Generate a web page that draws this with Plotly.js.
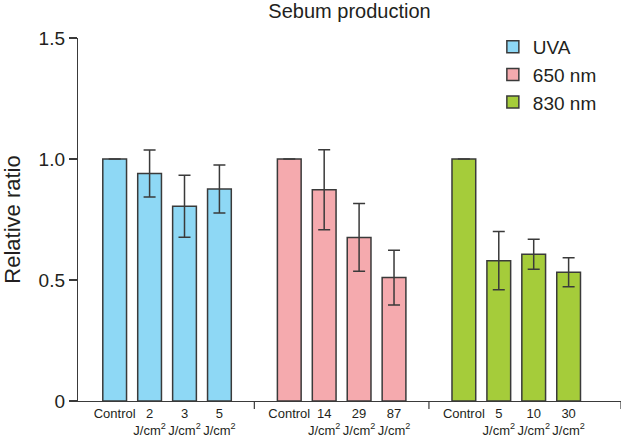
<!DOCTYPE html>
<html>
<head>
<meta charset="utf-8">
<script src="https://cdn.plot.ly/plotly-3.0.1.min.js"></script>
<style>html,body{margin:0;padding:0;background:#fff;}#chart{width:622px;height:448px;}</style>
</head>
<body>
<div id="chart"></div>
<script>
// ---- data ----
const seriesNames = ['UVA', '650 nm', '830 nm'];
const uvaLabels = ['Control', '2<br>J/cm<sup>2</sup>', '3<br>J/cm<sup>2</sup>', '5<br>J/cm<sup>2</sup>'];
const red650Labels = ['Control', '14<br>J/cm<sup>2</sup>', '29<br>J/cm<sup>2</sup>', '87<br>J/cm<sup>2</sup>'];
const nir830Labels = ['Control', '5<br>J/cm<sup>2</sup>', '10<br>J/cm<sup>2</sup>', '30<br>J/cm<sup>2</sup>'];
const uvaValues = [1.0, 0.94, 0.805, 0.876];
const uvaErrors = [null, 0.097, 0.128, 0.099];
const red650Values = [1.0, 0.873, 0.676, 0.51];
const red650Errors = [null, 0.165, 0.14, 0.113];
const nir830Values = [1.0, 0.58, 0.606, 0.532];
const nir830Errors = [null, 0.12, 0.062, 0.06];
const yTickVals = [0, 0.5, 1.0, 1.5];
const yTickText = ['0', '0.5', '1.0', '1.5'];

// ---- build ----
const labelSets = [uvaLabels, red650Labels, nir830Labels];
const valueSets = [uvaValues, red650Values, nir830Values];
const errorSets = [uvaErrors, red650Errors, nir830Errors];
const colors = ['#8ed8f5', '#f5aaae', '#a5cc3a'];
const edge = '#3a3a3a';
const txt = '#231f20';
const slot = 5; // 4 bars + 1 gap per group

const traces = [];
const tickVals = [];
const tickText = [];
seriesNames.forEach((name, g) => {
  const xs = labelSets[g].map((_, i) => g * slot + i);
  xs.forEach((x, i) => { tickVals.push(x); tickText.push(labelSets[g][i]); });
  traces.push({
    type: 'bar',
    name: name,
    x: xs,
    y: valueSets[g],
    width: 0.68,
    marker: {color: colors[g], line: {color: edge, width: 1.5}},
    error_y: {type: 'data', array: errorSets[g], visible: true, color: edge, thickness: 1.5, width: 6},
    hoverinfo: 'y'
  });
});

const groupEdges = [slot - 1, 2 * slot - 1, 3 * slot - 0.5];
const shapes = groupEdges.map(x => ({
  type: 'line', xref: 'x', yref: 'paper', x0: x, x1: x, y0: 0, y1: -0.022,
  line: {color: edge, width: 1.2}
}));

const layout = {
  width: 622, height: 448,
  margin: {l: 78, r: 1, t: 38, b: 47},
  paper_bgcolor: '#fff', plot_bgcolor: '#fff',
  font: {family: '"Liberation Sans", Arial, sans-serif', color: txt},
  title: {text: 'Sebum production', x: 0.5, xref: 'paper', y: 0.975, yref: 'container', yanchor: 'middle',
          font: {size: 20, color: txt}},
  bargap: 0,
  showlegend: true,
  legend: {x: 0.764, y: 1.028, xanchor: 'left', yanchor: 'top', font: {size: 19, color: txt},
           bgcolor: 'rgba(0,0,0,0)', tracegroupgap: 0, itemwidth: 30},
  xaxis: {
    range: [-1.05, 14.5], showgrid: false, zeroline: false,
    showline: true, linecolor: edge, linewidth: 1.2,
    tickmode: 'array', tickvals: tickVals, ticktext: tickText, tickangle: 0,
    ticks: '', tickfont: {size: 13, color: txt}, fixedrange: true
  },
  yaxis: {
    range: [0, 1.5], showgrid: false, zeroline: false,
    showline: true, linecolor: edge, linewidth: 1.2,
    tickmode: 'array', tickvals: yTickVals, ticktext: yTickText,
    ticks: 'outside', ticklen: 8, tickwidth: 1.2, tickcolor: edge,
    tickfont: {size: 19, color: txt},
    title: {text: 'Relative ratio', font: {size: 22, color: txt}, standoff: 12}
  },
  shapes: shapes
};

Plotly.newPlot('chart', traces, layout, {displayModeBar: false, staticPlot: true});
</script>
</body>
</html>
